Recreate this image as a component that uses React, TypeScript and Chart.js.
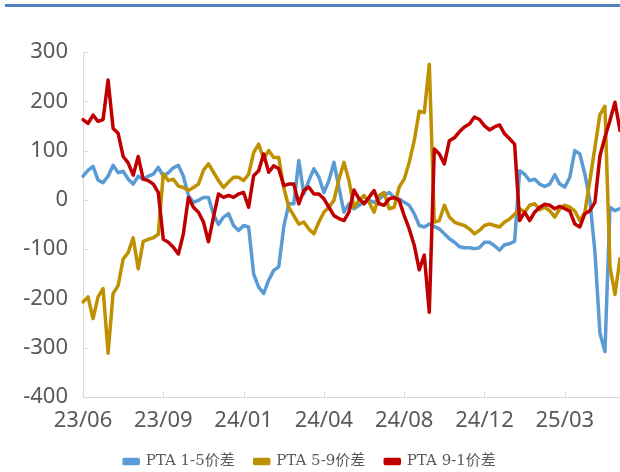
import React, { useEffect, useRef } from "react";
import { Chart, registerables } from "chart.js";

Chart.register(...registerables);

// x tick labels, one every POINTS_PER_TICK observations
const xTickLabels = ["23/06", "23/09", "24/01", "24/04", "24/08", "24/12", "25/03"];
const POINTS_PER_TICK = 16;

const seriesNames = ["PTA 1-5价差", "PTA 5-9价差", "PTA 9-1价差"];
const seriesColors = ["#5b9bd5", "#bf9000", "#c00000"];

// PTA 1-5 spread
const pta15 = [
  48, 60, 68, 40, 35, 48, 70, 55, 58, 42, 32, 48, 42, 48, 52, 66, 48, 55, 65, 70, 48, 9, -5, -1, 5, 5, -29, -50,
  -35, -28, -52, -62, -52, -55, -150, -177, -190, -163, -143, -136, -55, -8, -8, 80, 12, 39, 63, 46, 15, 39, 76, 25, -25, -8, -18,
  -11, -5, -1, -5, 2, 9, 15, 5, 2, -5, -11, -28, -52, -55, -49, -54, -59, -69, -79, -86, -95, -97, -97, -99, -97, -86,
  -86, -93, -102, -91, -89, -84, 59, 52, 39, 42, 32, 27, 32, 51, 32, 26, 46, 100, 93, 52, -1, -105, -270, -308, -15, -22, -18,
];

// PTA 5-9 spread
const pta59 = [
  -207, -197, -241, -197, -180, -311, -190, -174, -120, -107, -77, -140, -84, -80, -77, -70, 53, 39, 42, 28, 25, 19, 25, 32, 60, 73, 56, 39,
  25, 36, 46, 46, 39, 52, 96, 113, 83, 100, 86, 86, 25, -15, -32, -49, -45, -59, -69, -45, -25, -15, -1, 42, 76, 39, -15,
  -1, 9, -5, -25, 9, 15, -18, -15, 26, 42, 76, 120, 180, 177, 275, -45, -42, -11, -35, -45, -49, -52, -59, -69, -62, -52,
  -49, -52, -55, -45, -39, -29, -18, -25, -11, -8, -20, -15, -22, -35, -18, -11, -15, -23, -42, -25, 39, 106, 173, 190, -136, -192, -119,
];

// PTA 9-1 spread
const pta91 = [
  163, 155, 172, 159, 163, 243, 145, 135, 88, 75, 50, 88, 42, 39, 32, 15, -80, -86, -96, -110, -69, 5, -15, -25, -45, -85, -35, 12,
  5, 9, 5, 12, 15, -15, 49, 59, 93, 56, 69, 63, 29, 32, 32, -8, 19, 26, 12, 12, 2, -15, -32, -38, -42, -25, 20,
  2, -8, 5, 19, -8, -11, 2, 5, -1, -32, -59, -92, -142, -112, -228, 103, 93, 73, 120, 126, 138, 148, 154, 168, 163, 150,
  142, 148, 152, 134, 124, 113, -42, -25, -42, -25, -15, -9, -11, -18, -13, -18, -23, -49, -55, -28, -22, -5, 89, 127, 161, 198, 141,
];

const seriesValues = [pta15, pta59, pta91];

const categories = pta15.map((_, i) =>
  i % POINTS_PER_TICK === 0 ? xTickLabels[i / POINTS_PER_TICK] ?? "" : ""
);

const AXIS_COLOR = "#d9d9d9";
const TEXT_COLOR = "#595959";

const decorPlugin = {
  id: "decor",
  beforeDraw(chart: any) {
    const { ctx, width, height } = chart;
    ctx.save();
    ctx.fillStyle = "#ffffff";
    ctx.fillRect(0, 0, width, height);
    ctx.fillStyle = "#4f81bd";
    ctx.fillRect(5, 4, width - 5, 3);
    ctx.restore();
  },
  beforeDatasetsDraw(chart: any) {
    const { ctx, chartArea, scales } = chart;
    ctx.save();
    ctx.strokeStyle = AXIS_COLOR;
    ctx.lineWidth = 1;
    ctx.beginPath();
    scales.y.ticks.forEach((t: any) => {
      const py = Math.round(scales.y.getPixelForValue(t.value)) + 0.5;
      ctx.moveTo(chartArea.left, py);
      ctx.lineTo(chartArea.left + 5, py);
    });
    categories.forEach((c, i) => {
      if (!c) return;
      const px = Math.round(scales.x.getPixelForValue(i)) + 0.5;
      ctx.moveTo(px, chartArea.bottom);
      ctx.lineTo(px, chartArea.bottom - 5);
    });
    ctx.stroke();
    ctx.restore();
  },
};

export default function App() {
  const canvasRef = useRef<HTMLCanvasElement | null>(null);

  useEffect(() => {
    if (!canvasRef.current) return;
    const chart = new Chart(canvasRef.current, {
      type: "line",
      data: {
        labels: categories,
        datasets: seriesValues.map((vals, k) => ({
          label: seriesNames[k],
          data: vals,
          borderColor: seriesColors[k],
          backgroundColor: seriesColors[k],
          borderWidth: 3.5,
          pointRadius: 0,
          tension: 0,
          borderJoinStyle: "round" as const,
          borderCapStyle: "round" as const,
          order: 2 - k,
        })),
      },
      options: {
        animation: false,
        responsive: false,
        devicePixelRatio: 1,
        layout: { padding: { top: 52, left: 0, right: 0, bottom: 0 } },
        plugins: {
          tooltip: { enabled: false },
          legend: {
            position: "bottom",
            maxHeight: 38,
            labels: {
              sort: (a: any, b: any) => a.datasetIndex - b.datasetIndex,
              boxWidth: 14,
              boxHeight: 4,
              padding: 20,
              color: TEXT_COLOR,
              font: { family: "'DejaVu Serif', 'Noto Sans CJK SC', serif", size: 15 },
            },
          },
        },
        scales: {
          x: {
            type: "category",
            grid: { display: false, drawTicks: false },
            border: { display: true, color: AXIS_COLOR, width: 1 },
            ticks: {
              autoSkip: false,
              maxRotation: 0,
              minRotation: 0,
              padding: 11,
              color: TEXT_COLOR,
              font: { family: "'Noto Sans', sans-serif", size: 22 },
              callback: (_v: any, i: number) => categories[i],
            },
            afterFit: (s: any) => {
              s.height = 37;
              s.paddingLeft = 0;
              s.paddingRight = 0;
            },
          },
          y: {
            min: -400,
            max: 300,
            grid: { display: false, drawTicks: false },
            border: { display: true, color: AXIS_COLOR, width: 1 },
            ticks: {
              stepSize: 100,
              padding: 15,
              color: TEXT_COLOR,
              font: { family: "'Noto Sans', sans-serif", size: 22 },
            },
            afterFit: (s: any) => {
              s.width = 83;
              s.paddingTop = 0;
              s.paddingBottom = 0;
            },
          },
        },
      },
      plugins: [decorPlugin],
    });
    return () => chart.destroy();
  }, []);

  return (
    <div style={{ position: "fixed", left: 0, top: 0, width: 620, height: 472, background: "#fff" }}>
      <canvas ref={canvasRef} width={620} height={472} />
    </div>
  );
}
